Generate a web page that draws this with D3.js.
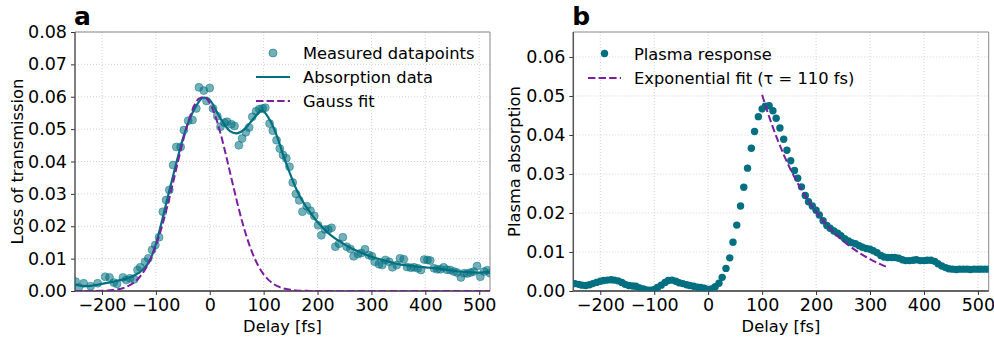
<!DOCTYPE html>
<html><head><meta charset="utf-8">
<script src="https://cdn.jsdelivr.net/npm/d3@7"></script>
<style>
body{margin:0;background:#fff;}
svg{font-family:"DejaVu Sans",sans-serif;}
</style></head>
<body><svg id="c" width="994" height="340"></svg>
<script>
// ---------- Panel a data ----------
const measX = [-249,-243,-234,-221,-208,-194,-186,-178,-172,-161,-155,-148,-140,-134,-129,-120,-114,-107,-101,-94,-87,-81,-75,-68,-62,-54,-48,-40,-32,-25,-20,-11,-6,0,6,14,20,27,32,40,46,54,60,67,73,79,86,92,98,103,111,117,124,130,136,142,148,154,160,166,172,180,187,194,201,207,214,220,226,233,240,247,254,261,267,275,281,288,295,301,306,314,320,326,333,339,347,353,360,366,373,379,386,392,398,404,409,416,422,428,434,440,446,453,459,466,472,478,484,490,496,502,509,515,520];
const measY = [0.0029,0.0011,0.0024,0.0015,0.0024,0.0044,0.0042,0.0026,0.0022,0.0042,0.0034,0.0039,0.0036,0.0065,0.0073,0.0090,0.0101,0.0127,0.0142,0.0166,0.0245,0.0281,0.0312,0.0389,0.0445,0.0445,0.0497,0.0526,0.0528,0.0564,0.0629,0.0619,0.0587,0.0627,0.0564,0.0540,0.0507,0.0520,0.0523,0.0515,0.0510,0.0450,0.0471,0.0490,0.0505,0.0538,0.0555,0.0562,0.0564,0.0566,0.0517,0.0495,0.0466,0.0440,0.0420,0.0410,0.0384,0.0335,0.0300,0.0280,0.0245,0.0262,0.0248,0.0232,0.0203,0.0172,0.0190,0.0190,0.0195,0.0137,0.0146,0.0166,0.0137,0.0130,0.0107,0.0114,0.0117,0.0129,0.0111,0.0107,0.0090,0.0083,0.0080,0.0096,0.0090,0.0073,0.0080,0.0101,0.0098,0.0074,0.0072,0.0073,0.0070,0.0065,0.0097,0.0096,0.0094,0.0070,0.0067,0.0067,0.0073,0.0066,0.0065,0.0060,0.0057,0.0042,0.0055,0.0054,0.0057,0.0060,0.0077,0.0044,0.0060,0.0064,0.0055];

const absX = [-250,-237.5,-225,-212.5,-200,-187.5,-175,-162.5,-150,-137.5,-125,-112.5,-100,-87.5,-75,-62.5,-50,-37.5,-25,-12.5,0,12.5,25,37.5,50,62.5,75,87.5,95,100,112.5,125,137.5,150,162.5,175,187.5,200,212.5,225,237.5,250,262.5,275,287.5,300,325,350,375,400,425,450,475,500,520];
const absY = [0.0020,0.0016,0.0015,0.0018,0.0022,0.0026,0.0030,0.0035,0.0041,0.0050,0.0065,0.0090,0.0145,0.0225,0.0310,0.0392,0.0470,0.0530,0.0572,0.0597,0.0590,0.0555,0.0520,0.0494,0.0487,0.0497,0.0520,0.0545,0.0557,0.0555,0.0525,0.0477,0.0414,0.0358,0.0308,0.0270,0.0240,0.0213,0.0191,0.0172,0.0157,0.0144,0.0132,0.0123,0.0114,0.0106,0.0094,0.0083,0.0077,0.0073,0.0069,0.0063,0.0058,0.0057,0.0058];

const gaussX = [-250,-240,-230,-220,-210,-200,-190,-180,-170,-160,-150,-140,-130,-120,-110,-100,-90,-80,-70,-60,-50,-40,-30,-20,-10,0,10,20,30,40,50,60,70,80,90,100,110,120,130,140,150,160,170,180,190,200,250,300,350,400,450,500,520];
const gaussY = [0.0000012,0.000003,0.000007,0.000016,0.000035,0.000072,0.000145,0.00028,0.00053,0.00094,0.00163,0.0027,0.00432,0.00664,0.00983,0.0140,0.01919,0.02531,0.03213,0.03924,0.04612,0.05215,0.05676,0.05944,0.0599,0.05808,0.0542,0.04867,0.04205,0.03496,0.02798,0.02154,0.01596,0.01138,0.0078,0.00516,0.00328,0.0020,0.00118,0.00067,0.00036,0.00019,0.0001,0.00005,0.00002,0.00001,0,0,0,0,0,0,0];

// ---------- Panel b data ----------
const plasmaX = [-247,-240,-234,-227,-220,-214,-207,-200,-194,-187,-180,-174,-167,-160,-154,-147,-140,-134,-127,-120,-114,-107,-100,-94,-87,-80,-74,-67,-60,-54,-47,-40,-34,-27,-20,-14,-7,0,6,13,20,26,33,40,46,53,60,66,73,80,86,93,100,106,113,120,126,133,140,146,153,160,166,173,180,186,193,200,206,213,220,226,233,240,246,253,260,266,273,280,286,293,300,306,313,320,326,333,340,346,353,360,366,373,380,386,393,400,406,413,420,426,433,440,446,453,460,466,473,480,486,493,500,506,513,520];
const plasmaY = [0.0019,0.0017,0.0015,0.0014,0.0016,0.0019,0.0022,0.0025,0.0027,0.0028,0.0029,0.0028,0.0026,0.0022,0.0017,0.0014,0.0013,0.0012,0.0008,0.0005,0.0003,0.0002,0.0004,0.0009,0.0015,0.0022,0.0027,0.0028,0.0025,0.0021,0.0019,0.0016,0.0014,0.0012,0.0010,0.0009,0.0007,0.0004,0.0005,0.0011,0.0020,0.0035,0.0058,0.0085,0.0125,0.0169,0.0218,0.0266,0.0315,0.0366,0.0409,0.0447,0.0467,0.0474,0.0475,0.0462,0.0443,0.0418,0.0389,0.0361,0.0334,0.0309,0.0289,0.0267,0.0245,0.0229,0.0218,0.0207,0.0195,0.0180,0.0168,0.0161,0.0154,0.0148,0.0142,0.0134,0.0128,0.0124,0.0121,0.0116,0.0112,0.0109,0.0107,0.0103,0.0098,0.0091,0.0087,0.0086,0.0086,0.0086,0.0084,0.0080,0.0078,0.0078,0.0079,0.0080,0.0078,0.0078,0.0079,0.0079,0.0076,0.0070,0.0064,0.0060,0.0057,0.0056,0.0055,0.0056,0.0056,0.0056,0.0055,0.0056,0.0056,0.0056,0.0056,0.0056];

const expX = [100,110,120,130,140,150,160,170,180,190,200,210,220,230,240,250,260,270,280,290,300,310,320,330];
const expY = [0.0503,0.04593,0.04194,0.03830,0.03497,0.03193,0.02915,0.02662,0.02431,0.02219,0.02027,0.01850,0.01690,0.01543,0.01409,0.01286,0.01175,0.01072,0.00979,0.00894,0.00817,0.00746,0.00681,0.00622];

// ---------- Ticks / labels ----------
const xTicks = [-200,-100,0,100,200,300,400,500];
const yTicksA = [0,0.01,0.02,0.03,0.04,0.05,0.06,0.07,0.08];
const yTicksB = [0,0.01,0.02,0.03,0.04,0.05,0.06];
const legendA = ["Measured datapoints","Absorption data","Gauss fit"];
const legendB = ["Plasma response","Exponential fit (\u03c4 = 110 fs)"];

const TEAL = "#007080";
const PURPLE = "#7b1fa2";
const svg = d3.select("#c");

function fmtTick(d){ return d < 0 ? "\u2212" + Math.abs(d) : String(d); }

function panel(opt){
  const {x0,x1,y0,y1,ymax,yticks,letter,ylabel,id,ylx} = opt;
  const x = d3.scaleLinear().domain([-250,520]).range([x0,x1]);
  const y = d3.scaleLinear().domain([0,ymax]).range([y1,y0]);
  const g = svg.append("g");
  g.append("clipPath").attr("id",id).append("rect").attr("x",x0).attr("y",y0).attr("width",x1-x0).attr("height",y1-y0);
  // grid
  g.append("g").selectAll("line").data(xTicks).join("line")
    .attr("x1",d=>x(d)).attr("x2",d=>x(d)).attr("y1",y0).attr("y2",y1)
    .attr("stroke","#c8c8c8").attr("stroke-width",0.8).attr("stroke-dasharray","1,2");
  g.append("g").selectAll("line").data(yticks).join("line")
    .attr("x1",x0).attr("x2",x1).attr("y1",d=>y(d)).attr("y2",d=>y(d))
    .attr("stroke","#c8c8c8").attr("stroke-width",0.8).attr("stroke-dasharray","1,2");
  // axes
  const ax = g.append("g").attr("transform",`translate(0,${y1})`)
    .call(d3.axisBottom(x).tickValues(xTicks).tickFormat(fmtTick).tickSize(4).tickSizeOuter(0).tickPadding(4));
  const ay = g.append("g").attr("transform",`translate(${x0},0)`)
    .call(d3.axisLeft(y).tickValues(yticks).tickFormat(d3.format(".2f")).tickSize(4).tickSizeOuter(0).tickPadding(4));
  [ax,ay].forEach(a=>{
    a.select(".domain").remove();
    a.selectAll("text").attr("font-size",17.5).attr("fill","#000").attr("font-family","DejaVu Sans");
    a.selectAll("line").attr("stroke","#333").attr("stroke-width",1);
  });
  // spines
  g.append("line").attr("x1",x0).attr("x2",x1).attr("y1",y0).attr("y2",y0).attr("stroke","#888").attr("stroke-width",1);
  g.append("line").attr("x1",x1).attr("x2",x1).attr("y1",y0).attr("y2",y1).attr("stroke","#888").attr("stroke-width",1);
  g.append("line").attr("x1",x0).attr("x2",x1).attr("y1",y1).attr("y2",y1).attr("stroke","#333").attr("stroke-width",1.5);
  g.append("line").attr("x1",x0).attr("x2",x0).attr("y1",y0).attr("y2",y1).attr("stroke","#555").attr("stroke-width",1.5);
  // labels
  g.append("text").attr("x",(x0+x1)/2).attr("y",332).attr("text-anchor","middle").attr("font-size",16.3).text("Delay [fs]");
  g.append("text").attr("transform",`translate(${ylx},${(y0+y1)/2}) rotate(-90)`).attr("text-anchor","middle").attr("font-size",16.3).text(ylabel);
  g.append("text").attr("x",x0-1).attr("y",25).attr("font-size",25).attr("font-weight","bold").text(letter);
  const plot = g.append("g").attr("clip-path",`url(#${id})`);
  return {x,y,g,plot};
}

// Panel a
const A = panel({x0:75,x1:490,y0:32,y1:291,ymax:0.08,yticks:yTicksA,letter:"a",ylabel:"Loss of transmission",id:"clipA",ylx:23});
A.plot.append("g").selectAll("circle").data(measX.map((v,i)=>[v,measY[i]])).join("circle")
  .attr("cx",d=>A.x(d[0])).attr("cy",d=>A.y(d[1])).attr("r",4)
  .attr("fill",TEAL).attr("fill-opacity",0.55).attr("stroke",TEAL).attr("stroke-opacity",0.55).attr("stroke-width",0.8);
A.plot.append("path").datum(absX.map((v,i)=>[v,absY[i]]))
  .attr("d",d3.line().x(d=>A.x(d[0])).y(d=>A.y(d[1])).curve(d3.curveCatmullRom))
  .attr("fill","none").attr("stroke",TEAL).attr("stroke-width",2.2);
A.plot.append("path").datum(gaussX.map((v,i)=>[v,gaussY[i]]))
  .attr("d",d3.line().x(d=>A.x(d[0])).y(d=>A.y(d[1])).curve(d3.curveMonotoneX))
  .attr("fill","none").attr("stroke",PURPLE).attr("stroke-width",2).attr("stroke-dasharray","7.4,3.2");
// legend a
const LA = A.g.append("g");
LA.append("circle").attr("cx",273).attr("cy",53).attr("r",4).attr("fill",TEAL).attr("fill-opacity",0.55).attr("stroke",TEAL).attr("stroke-opacity",0.55);
LA.append("line").attr("x1",256).attr("x2",290).attr("y1",77).attr("y2",77).attr("stroke",TEAL).attr("stroke-width",2.2);
LA.append("line").attr("x1",256).attr("x2",290).attr("y1",101).attr("y2",101).attr("stroke",PURPLE).attr("stroke-width",2).attr("stroke-dasharray","7.4,3.2");
LA.selectAll("text").data(legendA).join("text").attr("x",303).attr("y",(d,i)=>53+24*i+6).attr("font-size",16.3).text(d=>d);

// Panel b
const B = panel({x0:573.3,x1:988.7,y0:32,y1:291,ymax:0.0664,yticks:yTicksB,letter:"b",ylabel:"Plasma absorption",id:"clipB",ylx:520});
B.plot.append("g").selectAll("circle").data(plasmaX.map((v,i)=>[v,plasmaY[i]])).join("circle")
  .attr("cx",d=>B.x(d[0])).attr("cy",d=>B.y(d[1])).attr("r",3.7).attr("fill",TEAL);
B.plot.append("path").datum(expX.map((v,i)=>[v,expY[i]]))
  .attr("d",d3.line().x(d=>B.x(d[0])).y(d=>B.y(d[1])).curve(d3.curveMonotoneX))
  .attr("fill","none").attr("stroke",PURPLE).attr("stroke-width",2).attr("stroke-dasharray","7.4,3.2");
const LB = B.g.append("g");
LB.append("circle").attr("cx",604.5).attr("cy",53.5).attr("r",3.7).attr("fill",TEAL);
LB.append("line").attr("x1",588).attr("x2",621).attr("y1",78).attr("y2",78).attr("stroke",PURPLE).attr("stroke-width",2).attr("stroke-dasharray","7.4,3.2");
LB.selectAll("text").data(legendB).join("text").attr("x",634).attr("y",(d,i)=>53.5+24.5*i+6).attr("font-size",16.3).text(d=>d);
</script></body></html>
